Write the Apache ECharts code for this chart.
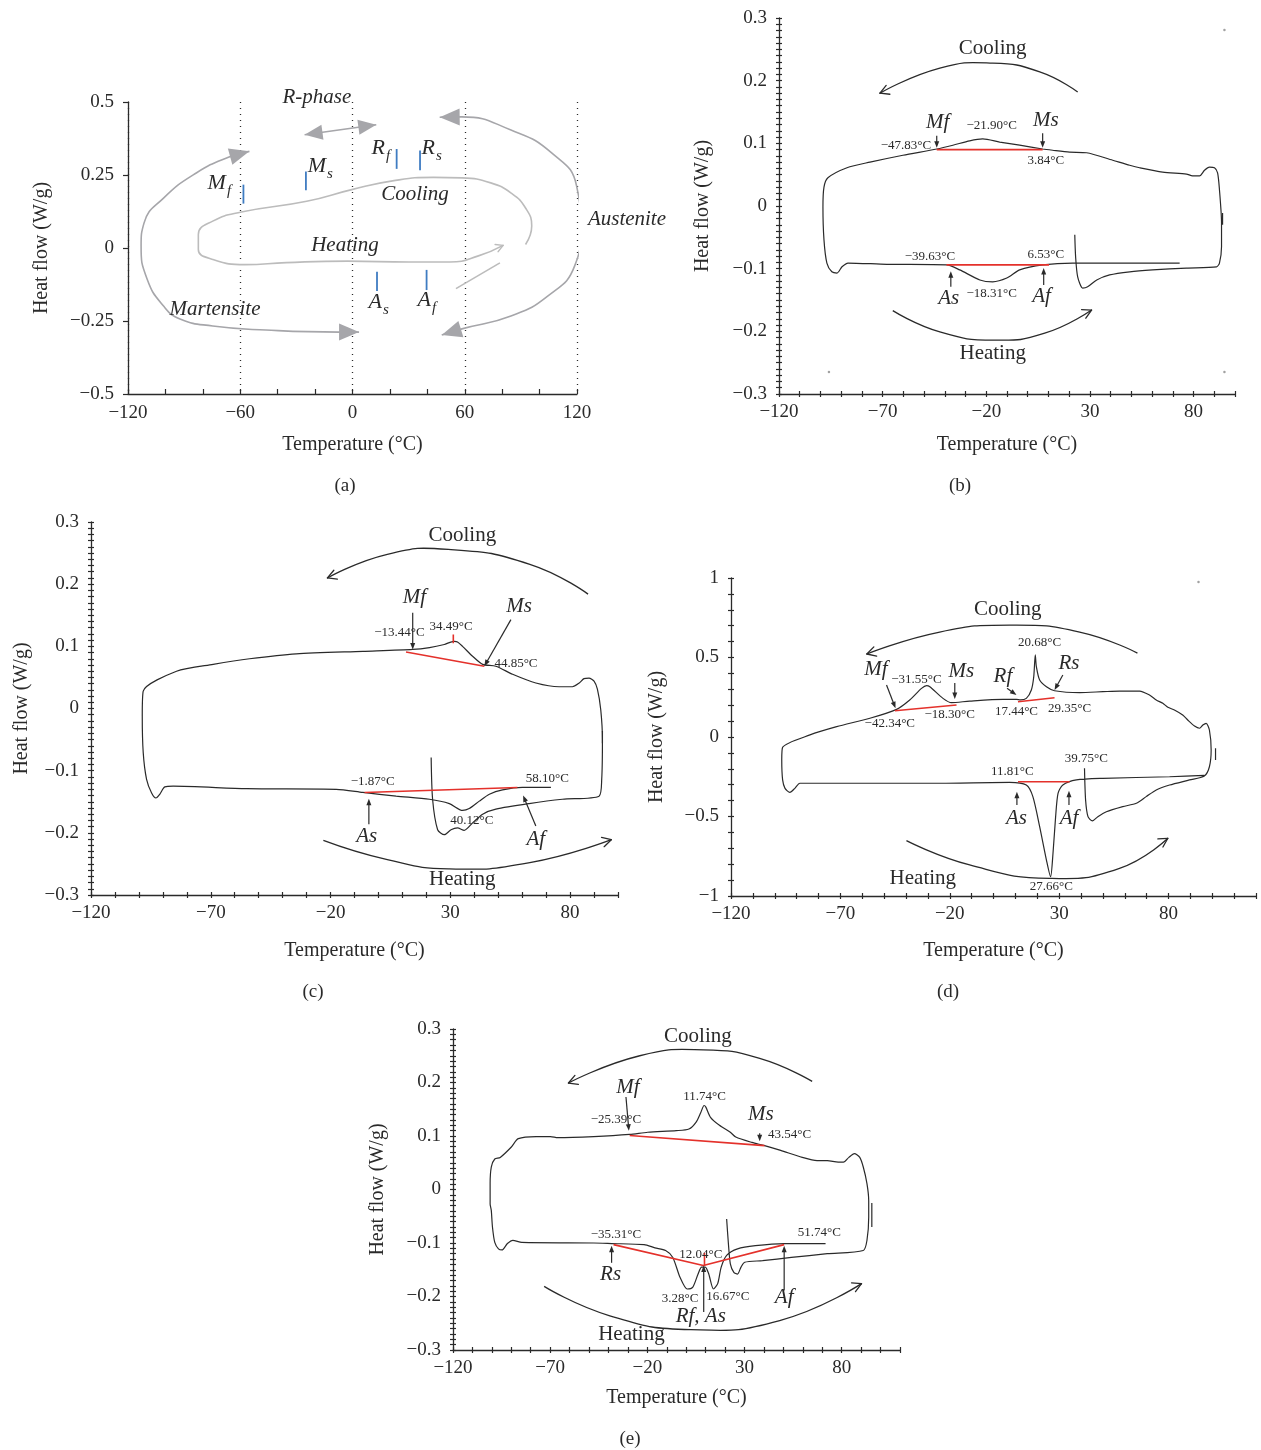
<!DOCTYPE html>
<html>
<head>
<meta charset="utf-8">
<title>DSC heat flow curves</title>
<script src="https://cdn.jsdelivr.net/npm/echarts@6.0.0/dist/echarts.min.js"></script>
<style>
html,body{margin:0;padding:0;background:#ffffff;}
#chart{width:1261px;height:1450px;}
</style>
</head>
<body>
<div id="chart"></div>
<script>
// ===================== DATA =====================
// ---- (a) schematic ----
const aLoopT  = [92.5, 95.8, 92.5, 84.8, 73.9, 58.6, 43.3, 21.4, -0.4, -24.5, -59.4, -74.7, -82.4, -82.4, -74.7, -57.3, -35.4, -2.6, 30.2, 52.0, 67.3, 80.5];
const aLoopHF = [0.012, 0.075, 0.137, 0.188, 0.223, 0.240, 0.242, 0.230, 0.200, 0.160, 0.123, 0.092, 0.046, -0.005, -0.039, -0.057, -0.050, -0.045, -0.048, -0.048, -0.027, 0.009];
const aRightArcT  = [46.6, 58.5, 84.7, 106.6, 119.8, 122.0, 118.7, 104.5, 84.7, 58.5, 47.7];
const aRightArcHF = [0.448, 0.449, 0.404, 0.325, 0.212, 0.063, -0.062, -0.164, -0.233, -0.277, -0.298];
const aLeftArcT  = [-55.1, -66.0, -83.5, -101.0, -111.4, -113.0, -109.8, -101.0, -92.2, -74.7, -46.3, -7.0, 3.5];
const aLeftArcHF = [0.331, 0.312, 0.257, 0.171, 0.086, 0.007, -0.106, -0.199, -0.243, -0.267, -0.281, -0.288, -0.288];
const aRphaseT  = [-25.6, 12.7];
const aRphaseHF = [0.388, 0.422];
const aShortT  = [55.3, 78.8];
const aShortHF = [-0.139, -0.051];
const aTickT   = [-58.3, -24.9, 23.6, 36.1, 13.1, 39.6];
const aTickTop = [0.217, 0.262, 0.339, 0.334, -0.081, -0.075];
const aTickBot = [0.152, 0.198, 0.271, 0.266, -0.147, -0.144];
const aLabels = [["R-phase", -19.0, 0.517], ["Cooling", 33.4, 0.182], ["Heating", -4.0, 0.007], ["Austenite", 146.7, 0.096], ["Martensite", -73.5, -0.209]];
const aSubLabels = [["M", "f", -69.8, 0.216], ["M", "s", -16.3, 0.274], ["R", "f", 15.2, 0.336], ["R", "s", 41.9, 0.336], ["A", "s", 13.6, -0.192], ["A", "f", 39.8, -0.185]];

// ---- (b) ----
const bT  = [22.7, 23.1, 24.1, 26.5, 28.9, 33.3, 39.5, 49.2, 60.2, 76.6, 91.1, 92.5, 93.5, 93.5, 92.5, 91.6, 90.1, 87.7, 85.3, 82.9, 79.5, 76.6, 65.1, 54.0, 49.2, 41.0, 28.4, 20.2, 12.0, 7.2, -3.9, -13.5, -21.7, -28.0, -36.1, -43.9, -60.2, -76.1, -87.2, -96.4, -98.3, -98.8, -98.3, -96.9, -94.5, -92.0, -89.6, -86.7, -68.0, -39.0, -32.8, -23.1, -16.9, -10.1, -3.9, 7.2, 21.7, 73.3];
const bHF = [-0.046, -0.081, -0.113, -0.131, -0.129, -0.118, -0.110, -0.105, -0.102, -0.099, -0.097, -0.091, -0.065, -0.027, 0.026, 0.053, 0.061, 0.062, 0.057, 0.048, 0.048, 0.051, 0.054, 0.061, 0.065, 0.073, 0.085, 0.086, 0.089, 0.091, 0.097, 0.102, 0.107, 0.104, 0.097, 0.091, 0.081, 0.070, 0.061, 0.045, 0.030, -0.002, -0.054, -0.091, -0.105, -0.107, -0.097, -0.091, -0.093, -0.094, -0.102, -0.118, -0.121, -0.115, -0.102, -0.094, -0.091, -0.091];
const bStubT = [94.0, 94.0], bStubHF = [-0.011, -0.030];
const bRed = [[[-43.9, 7.2], [0.090, 0.090]], [[-39.2, 10.3], [-0.094, -0.094]]];
const bTexts = [["Cooling", -16.9, 0.252, "plain"], ["Heating", -16.9, -0.236, "plain"], ["Mf", -43.4, 0.134, "ital"], ["Ms", 8.7, 0.137, "ital"], ["As", -38.1, -0.147, "ital"], ["Af", 6.7, -0.144, "ital"],
  ["\u221247.83\u00b0C", -58.8, 0.096, "small"], ["\u221221.90\u00b0C", -17.4, 0.129, "small"], ["3.84\u00b0C", 8.7, 0.072, "small"], ["\u221239.63\u00b0C", -47.2, -0.080, "small"], ["6.53\u00b0C", 8.7, -0.077, "small"], ["\u221218.31\u00b0C", -17.4, -0.140, "small"]];
const bArrows = [[-43.9, 0.112, -43.9, 0.093], [7.2, 0.116, 7.2, 0.093], [-37.1, -0.129, -37.1, -0.104], [7.7, -0.126, 7.7, -0.099]];
const bCurves = [[[24.1, 0.182], [5.8, 0.214], [-16.9, 0.228], [-42.4, 0.220], [-71.3, 0.180]], [[-65.1, -0.167], [-42.4, -0.201], [-15.9, -0.214], [8.2, -0.203], [30.8, -0.166]]];
const bDots = [[94.9, 0.281], [-95.9, -0.265], [94.9, -0.265]];

// ---- (c) ----
const cT  = [22.0, 22.6, 24.7, 27.5, 30.3, 33.0, 35.8, 39.3, 43.5, 49.0, 62.9, 76.8, 92.1, 93.2, 93.5, 92.8, 91.4, 90.0, 87.9, 85.8, 83.8, 81.0, 75.4, 65.7, 56.0, 49.0, 43.5, 39.3, 35.1, 33.0, 31.7, 29.6, 27.5, 21.3, 14.3, -6.5, -34.3, -53.8, -69.0, -84.3, -98.2, -98.6, -98.2, -96.8, -94.7, -92.9, -91.3, -89.2, -85.7, -55.1, -17.6, -6.5, 7.4, 21.3, 29.6, 35.1, 37.9, 42.1, 46.3, 51.8, 60.1, 72.0];
const cHF = [-0.079, -0.146, -0.195, -0.203, -0.195, -0.192, -0.196, -0.184, -0.170, -0.162, -0.153, -0.146, -0.141, -0.114, -0.050, -0.002, 0.031, 0.044, 0.049, 0.048, 0.041, 0.035, 0.035, 0.041, 0.055, 0.068, 0.071, 0.084, 0.100, 0.107, 0.108, 0.106, 0.103, 0.098, 0.095, 0.092, 0.088, 0.080, 0.071, 0.060, 0.028, -0.012, -0.071, -0.114, -0.136, -0.144, -0.138, -0.126, -0.125, -0.129, -0.130, -0.135, -0.141, -0.146, -0.153, -0.164, -0.161, -0.149, -0.138, -0.131, -0.127, -0.127];
const cStubT = [93.5, 93.5], cStubHF = [-0.036, -0.056];
const cRed = [[[11.5, 44.2], [0.091, 0.068]], [[31.25, 31.25], [0.119, 0.105]], [[-5.8, 58.0], [-0.135, -0.127]]];
const cTexts = [["Cooling", 35.0, 0.278, "plain"], ["Heating", 35.0, -0.275, "plain"], ["Mf", 15.0, 0.178, "ital"], ["Ms", 58.75, 0.164, "ital"], ["As", -4.9, -0.206, "ital"], ["Af", 65.7, -0.211, "ital"],
  ["\u221213.44\u00b0C", 8.75, 0.122, "small"], ["34.49\u00b0C", 30.3, 0.131, "small"], ["44.85\u00b0C", 57.4, 0.072, "small"], ["\u22121.87\u00b0C", -2.4, -0.118, "small"], ["58.10\u00b0C", 70.5, -0.113, "small"], ["40.12\u00b0C", 39.0, -0.180, "small"]];
const cArrows = [[14.3, 0.154, 14.3, 0.095], [55.3, 0.143, 44.2, 0.068], [-4.0, -0.186, -4.0, -0.145], [65.7, -0.189, 60.4, -0.140]];
const cCurves = [[[87.5, 0.184], [63.2, 0.232], [29.2, 0.256], [3.7, 0.248], [-21.3, 0.210]], [[-23.0, -0.212], [3.7, -0.243], [29.2, -0.258], [63.2, -0.248], [97.2, -0.211]]];
const cDots = [[93.75, 0.307], [-96.7, -0.326], [93.3, -0.326]];

// ---- (d) ----
const dT  = [41.6, 42.1, 43.2, 45.2, 47.7, 51.6, 59.1, 65.3, 69.8, 74.4, 80.5, 89.6, 96.4, 98.7, 99.5, 98.7, 97.2, 95.7, 94.2, 91.9, 88.8, 86.5, 82.7, 79.7, 77.4, 74.4, 71.3, 66.8, 57.6, 50.0, 39.4, 27.9, 24.2, 21.1, 19.6, 19.1, 18.4, 17.3, 15.0, 12.3, 10.5, 4.3, -10.9, -19.2, -23.1, -29.1, -30.6, -32.9, -38.3, -44.3, -56.5, -71.7, -83.9, -96.4, -96.8, -96.4, -95.3, -93.1, -90.8, -88.5, -71.7, -26.1, 7.4, 15.0, 18.0, 21.1, 24.2, 26.1, 27.2, 28.4, 29.5, 31.7, 37.9, 50.0, 80.5, 96.4];
const dHF = [-0.197, -0.396, -0.501, -0.528, -0.501, -0.470, -0.438, -0.417, -0.375, -0.333, -0.302, -0.270, -0.245, -0.187, -0.082, 0.044, 0.086, 0.075, 0.055, 0.069, 0.107, 0.138, 0.170, 0.187, 0.212, 0.233, 0.264, 0.289, 0.289, 0.285, 0.279, 0.291, 0.316, 0.358, 0.442, 0.516, 0.379, 0.296, 0.243, 0.233, 0.237, 0.237, 0.226, 0.216, 0.243, 0.316, 0.323, 0.306, 0.233, 0.174, 0.118, 0.065, 0.013, -0.065, -0.145, -0.270, -0.323, -0.348, -0.323, -0.291, -0.291, -0.291, -0.285, -0.302, -0.375, -0.564, -0.774, -0.879, -0.731, -0.501, -0.354, -0.302, -0.270, -0.260, -0.250, -0.241];
const dStubT = [101.5, 101.5], dStubHF = [-0.071, -0.145];
const dRed = [[[-45.1, -16.9], [0.165, 0.201]], [[11.2, 27.9], [0.222, 0.247]], [[11.2, 34.8], [-0.281, -0.281]]];
const dTexts = [["Cooling", 6.5, 0.799, "plain"], ["Heating", -32.3, -0.887, "plain"], ["Mf", -53.8, 0.426, "ital"], ["Ms", -14.7, 0.411, "ital"], ["Rf", 4.3, 0.379, "ital"], ["Rs", 34.5, 0.464, "ital"], ["As", 10.5, -0.511, "ital"], ["Af", 34.5, -0.511, "ital"],
  ["\u221231.55\u00b0C", -35.2, 0.358, "small"], ["20.68\u00b0C", 21.1, 0.593, "small"], ["\u221242.34\u00b0C", -47.4, 0.082, "small"], ["\u221218.30\u00b0C", -20.0, 0.138, "small"], ["17.44\u00b0C", 10.5, 0.159, "small"], ["29.35\u00b0C", 34.8, 0.180, "small"], ["11.81\u00b0C", 8.6, -0.218, "small"], ["39.75\u00b0C", 42.4, -0.134, "small"], ["27.66\u00b0C", 26.4, -0.942, "small"]];
const dArrows = [[-48.9, 0.327, -44.8, 0.181], [-17.7, 0.340, -17.7, 0.239], [6.2, 0.306, 10.5, 0.264], [31.7, 0.390, 27.9, 0.296], [10.7, -0.428, 10.7, -0.344], [34.5, -0.428, 34.5, -0.338]];
const dCurves = [[[65.8, 0.528], [39.4, 0.660], [7.4, 0.704], [-24.6, 0.660], [-57.9, 0.522]], [[-39.8, -0.652], [-10.9, -0.805], [25.7, -0.889], [57.6, -0.826], [79.7, -0.637]]];
const dDots = [[93.7, 0.975]];

// ---- (e) ----
const eT  = [20.8, 21.7, 22.7, 24.5, 26.4, 28.2, 30.1, 39.3, 54.1, 72.6, 91.1, 93.0, 93.9, 93.9, 93.0, 91.1, 89.3, 86.5, 83.7, 80.9, 78.2, 72.6, 67.3, 59.7, 48.6, 40.3, 33.8, 25.5, 22.7, 17.1, 12.5, 10.1, 9.2, 7.5, 5.1, 1.4, -5.1, -19.8, -29.1, -47.6, -66.1, -69.8, -77.2, -86.4, -90.1, -95.7, -98.5, -100.3, -100.9, -100.9, -100.3, -99.7, -98.5, -96.6, -94.8, -92.0, -89.2, -84.6, -47.6, -38.4, -21.7, -16.1, -10.6, -6.9, -3.2, 0.5, 3.3, 6.1, 7.9, 9.8, 11.6, 14.0, 16.2, 18.0, 20.8, 26.4, 35.6, 50.4, 71.7];
const eHF = [-0.055, -0.101, -0.139, -0.155, -0.158, -0.145, -0.136, -0.133, -0.127, -0.120, -0.114, -0.095, -0.052, -0.021, 0.011, 0.042, 0.060, 0.067, 0.060, 0.051, 0.051, 0.054, 0.054, 0.060, 0.073, 0.082, 0.088, 0.098, 0.107, 0.120, 0.135, 0.154, 0.157, 0.144, 0.126, 0.113, 0.110, 0.107, 0.103, 0.099, 0.097, 0.099, 0.099, 0.095, 0.079, 0.060, 0.057, 0.042, 0.011, -0.027, -0.039, -0.070, -0.099, -0.111, -0.113, -0.101, -0.095, -0.099, -0.100, -0.101, -0.103, -0.109, -0.114, -0.127, -0.164, -0.186, -0.183, -0.158, -0.145, -0.145, -0.158, -0.186, -0.176, -0.145, -0.123, -0.111, -0.105, -0.101, -0.101];
const eStubT = [95.5, 95.5], eStubHF = [-0.025, -0.070];
const eRed = [[[-29.1, 40.3], [0.101, 0.082]], [[-37.4, 8.8, 50.4], [-0.103, -0.142, -0.103]], [[9.4, 9.4], [-0.118, -0.142]]];
const eTexts = [["Cooling", 6.0, 0.286, "plain"], ["Heating", -28.2, -0.271, "plain"], ["Mf", -30.0, 0.190, "ital"], ["Ms", 38.4, 0.140, "ital"], ["Rs", -38.9, -0.159, "ital"], ["Rf, As", 7.5, -0.237, "ital"], ["Af", 50.4, -0.202, "ital"],
  ["\u221225.39\u00b0C", -36.2, 0.131, "small"], ["11.74\u00b0C", 9.4, 0.174, "small"], ["43.54\u00b0C", 53.2, 0.103, "small"], ["\u221235.31\u00b0C", -36.2, -0.085, "small"], ["51.74\u00b0C", 68.5, -0.080, "small"], ["12.04\u00b0C", 7.5, -0.121, "small"], ["3.28\u00b0C", -3.2, -0.204, "small"], ["16.67\u00b0C", 21.4, -0.200, "small"]];
const eArrows = [[-31.0, 0.173, -29.5, 0.110], [37.8, 0.105, 37.8, 0.090], [-38.4, -0.137, -38.4, -0.105], [9.0, -0.229, 9.0, -0.142], [50.4, -0.189, 50.4, -0.105]];
const eCurves = [[[64.8, 0.202], [37.8, 0.245], [8.8, 0.261], [-23.9, 0.250], [-60.6, 0.199]], [[-73.1, -0.181], [-39.3, -0.236], [2.4, -0.262], [48.1, -0.245], [90.2, -0.176]]];

// ===================== LAYOUT / STYLE =====================
const FONT = '"Liberation Serif","DejaVu Serif",serif';
const INK = '#2a2a2a';
const RED = '#e4312b';
const GRAYLOOP = '#bcbcbc';
const GRAYARROW = '#a6a6aa';
const BLUE = '#3f7cc2';

const LAYOUT = [
  {grid:{left:128, top:102, width:449, height:292}, xr:[-120,120], yr:[-0.5,0.5], schematic:true, xGap:41, yGap:76},
  {grid:{left:779, top:18, width:456, height:376}, xr:[-120,100], yr:[-0.3,0.3], yStep:0.01, yMajor:0.1, xGap:41, yGap:66},
  {grid:{left:91, top:522, width:527, height:373}, xr:[-120,100], yr:[-0.3,0.3], yStep:0.01, yMajor:0.1, xGap:46, yGap:59},
  {grid:{left:731, top:578, width:525, height:318}, xr:[-120,120], yr:[-1,1], yStep:0.1, yMajor:0.5, xGap:45, yGap:64},
  {grid:{left:453, top:1029, width:447, height:321}, xr:[-120,110], yr:[-0.3,0.3], yStep:0.01, yMajor:0.1, xGap:38, yGap:65}
];
const PANEL_TITLES = [["(a)",345,486],["(b)",960,486],["(c)",313,992],["(d)",948,992],["(e)",630,1439]];

function fmt(v){ return String(+(+v).toFixed(3)).replace('-', '\u2212'); }
function isMult(v, base, step){ const k=(v-base)/step; return Math.abs(k-Math.round(k))<1e-6; }
const labelStyle = {fontFamily:FONT, fontSize:19, color:INK};
const nameStyle = {fontFamily:FONT, fontSize:20, color:INK};
const tickLine = {color:INK, width:1.2};

const grids=[], xAxes=[], yAxes=[], AX=[];
LAYOUT.forEach((L,i)=>{
  grids.push(Object.assign({outerBoundsMode:'none', containLabel:false}, L.grid));
  const base = {gridIndex:i, type:'value', min:L.xr[0], max:L.xr[1]};
  const ybase = {gridIndex:i, type:'value', min:L.yr[0], max:L.yr[1]};
  AX.push({x:xAxes.length, y:yAxes.length});
  if (L.schematic){
    xAxes.push(Object.assign({}, base, {position:'bottom', interval:60,
      axisLine:{onZero:false, lineStyle:{color:INK, width:1.3}},
      axisTick:{show:true, inside:true, length:5, lineStyle:tickLine},
      minorTick:{show:true, splitNumber:3, length:5, lineStyle:tickLine},
      axisLabel:Object.assign({margin:10, formatter:fmt}, labelStyle),
      splitLine:{show:true, lineStyle:{color:INK, width:1.3, type:[1,5]}},
      name:'Temperature (\u00b0C)', nameLocation:'middle', nameGap:L.xGap, nameTextStyle:nameStyle}));
    yAxes.push(Object.assign({}, ybase, {position:'left', interval:0.25,
      axisLine:{onZero:false, lineStyle:{color:INK, width:1.3}},
      axisTick:{show:true, inside:false, length:5, lineStyle:tickLine},
      axisLabel:Object.assign({margin:14, formatter:fmt}, labelStyle),
      splitLine:{show:false},
      name:'Heat flow (W/g)', nameLocation:'middle', nameGap:L.yGap, nameTextStyle:nameStyle}));
  } else {
    xAxes.push(Object.assign({}, base, {position:'bottom', interval:10,
      axisLine:{onZero:false, lineStyle:{color:INK, width:1.3}},
      axisTick:{show:true, inside:false, length:3, lineStyle:tickLine},
      axisLabel:Object.assign({margin:9, formatter:v=>isMult(v,-120,50)?fmt(v):''}, labelStyle),
      splitLine:{show:false},
      name:'Temperature (\u00b0C)', nameLocation:'middle', nameGap:L.xGap, nameTextStyle:nameStyle}));
    xAxes.push(Object.assign({}, base, {position:'bottom', interval:10,
      axisLine:{show:false, onZero:false},
      axisTick:{show:true, inside:true, length:3, lineStyle:tickLine},
      axisLabel:{show:false}, splitLine:{show:false}}));
    yAxes.push(Object.assign({}, ybase, {position:'left', interval:L.yStep,
      axisLine:{onZero:false, lineStyle:{color:INK, width:1.3}},
      axisTick:{show:true, inside:false, length:3, lineStyle:tickLine},
      axisLabel:Object.assign({margin:12, formatter:v=>isMult(v,0,L.yMajor)?fmt(v):''}, labelStyle),
      splitLine:{show:false},
      name:'Heat flow (W/g)', nameLocation:'middle', nameGap:L.yGap, nameTextStyle:nameStyle}));
    yAxes.push(Object.assign({}, ybase, {position:'left', interval:L.yStep,
      axisLine:{show:false, onZero:false},
      axisTick:{show:true, inside:true, length:3, lineStyle:tickLine},
      axisLabel:{show:false}, splitLine:{show:false}}));
  }
});

const series = [];
function zip(xs, ys){ return xs.map((v,i)=>[v, ys[i]]); }
function addLine(pi, xs, ys, color, width, smooth, z){
  series.push({type:'line', xAxisIndex:AX[pi].x, yAxisIndex:AX[pi].y, data:zip(xs,ys),
    symbol:'none', showSymbol:false, smooth:smooth||false, silent:true, z:z||2,
    lineStyle:{color:color, width:width}, emphasis:{disabled:true}});
}
function addDots(pi, pts){
  series.push({type:'scatter', xAxisIndex:AX[pi].x, yAxisIndex:AX[pi].y, data:pts, symbolSize:2.5,
    itemStyle:{color:'#8a8a8a'}, silent:true, z:2});
}

// (a)
addLine(0, aLoopT, aLoopHF, GRAYLOOP, 1.6, 0.5);
addLine(0, aShortT, aShortHF, GRAYLOOP, 1.6, false);
addLine(0, aLeftArcT, aLeftArcHF, GRAYARROW, 1.6, 0.5);
addLine(0, aRightArcT, aRightArcHF, GRAYARROW, 1.6, 0.5);
addLine(0, aRphaseT, aRphaseHF, GRAYARROW, 1.6, false);
aTickT.forEach((t,i)=>addLine(0, [t,t], [aTickTop[i], aTickBot[i]], BLUE, 1.8, false, 3));

const CURVES = [null,
  {T:bT, HF:bHF, stub:[bStubT,bStubHF], red:bRed, texts:bTexts, arrows:bArrows, curves:bCurves, dots:bDots},
  {T:cT, HF:cHF, stub:[cStubT,cStubHF], red:cRed, texts:cTexts, arrows:cArrows, curves:cCurves, dots:cDots},
  {T:dT, HF:dHF, stub:[dStubT,dStubHF], red:dRed, texts:dTexts, arrows:dArrows, curves:dCurves, dots:dDots},
  {T:eT, HF:eHF, stub:[eStubT,eStubHF], red:eRed, texts:eTexts, arrows:eArrows, curves:eCurves, dots:[]}
];
for (let p=1; p<5; p++){
  const C = CURVES[p];
  addLine(p, C.T, C.HF, INK, 1.2, 0.25);
  addLine(p, C.stub[0], C.stub[1], INK, 1.2, false);
  C.red.forEach(r=>addLine(p, r[0], r[1], RED, 1.6, false, 4));
  if (C.dots.length) addDots(p, C.dots);
}

const chart = echarts.init(document.getElementById('chart'), null, {renderer:'canvas'});
chart.setOption({animation:false, backgroundColor:'#ffffff', grid:grids, xAxis:xAxes, yAxis:yAxes, series:series});

// ===================== ANNOTATIONS (placed through the axes) =====================
const G = [];
function P(pi, t, h){ return chart.convertToPixel({xAxisIndex:AX[pi].x, yAxisIndex:AX[pi].y}, [t, h]); }
function addText(x, y, str, size, style, align){
  const a = align || 'center';
  G.push({type:'text', x:x, y:y, z:60, silent:true,
    style:{text:str, fill:INK, fontSize:size, fontFamily:FONT, fontStyle:style,
      align:a, verticalAlign:'middle', textAlign:a, textVerticalAlign:'middle'}});
}
const KIND = {plain:[21,'normal'], ital:[21,'italic'], small:[13,'normal']};
function filledHead(p1, p2, L, W, color){
  const dx=p2[0]-p1[0], dy=p2[1]-p1[1], d=Math.hypot(dx,dy)||1, ux=dx/d, uy=dy/d;
  const bx=p2[0]-ux*L, by=p2[1]-uy*L;
  G.push({type:'polygon', z:61, silent:true,
    shape:{points:[[p2[0],p2[1]],[bx-uy*W/2, by+ux*W/2],[bx+uy*W/2, by-ux*W/2]]},
    style:{fill:color, stroke:null}});
}
function openHead(p1, p2, L, ang, color, lw){
  const a = Math.atan2(p2[1]-p1[1], p2[0]-p1[0]);
  [ang, -ang].forEach(s=>{
    G.push({type:'line', z:61, silent:true,
      shape:{x1:p2[0], y1:p2[1], x2:p2[0]-L*Math.cos(a+s), y2:p2[1]-L*Math.sin(a+s)},
      style:{stroke:color, lineWidth:lw, lineCap:'round'}});
  });
}
function straightArrow(pi, t1, h1, t2, h2){
  const a=P(pi,t1,h1), b=P(pi,t2,h2);
  const dx=b[0]-a[0], dy=b[1]-a[1], d=Math.hypot(dx,dy)||1;
  G.push({type:'line', z:60, silent:true,
    shape:{x1:a[0], y1:a[1], x2:b[0]-dx/d*4, y2:b[1]-dy/d*4},
    style:{stroke:INK, lineWidth:1.2}});
  filledHead(a, b, 6.5, 5, INK);
}
function curvedArrow(pi, pts){
  const px = pts.map(p=>P(pi,p[0],p[1]));
  G.push({type:'polyline', z:60, silent:true, shape:{points:px, smooth:0.5},
    style:{stroke:INK, lineWidth:1.3, fill:null}});
  openHead(px[px.length-2], px[px.length-1], 10, 0.5, INK, 1.3);
}

// panel titles
PANEL_TITLES.forEach(t=>addText(t[1], t[2], t[0], 19, 'normal'));

// (a) labels and arrowheads
aLabels.forEach(l=>{ const p=P(0,l[1],l[2]); addText(p[0], p[1], l[0], 21, 'italic'); });
aSubLabels.forEach(l=>{ const p=P(0,l[2],l[3]); addText(p[0]+4, p[1]-2, l[0], 22, 'italic', 'right'); addText(p[0]+5, p[1]+6, l[1], 15, 'italic', 'left'); });
(function(){
  const n = aLeftArcT.length, m = aRightArcT.length;
  filledHead(P(0,aLeftArcT[1],aLeftArcHF[1]), P(0,aLeftArcT[0],aLeftArcHF[0]), 20, 17, GRAYARROW);
  filledHead(P(0,aLeftArcT[n-2],aLeftArcHF[n-2]), P(0,aLeftArcT[n-1],aLeftArcHF[n-1]), 20, 17, GRAYARROW);
  filledHead(P(0,aRightArcT[1],aRightArcHF[1]), P(0,aRightArcT[0],aRightArcHF[0]), 20, 17, GRAYARROW);
  filledHead(P(0,aRightArcT[m-2],aRightArcHF[m-2]), P(0,aRightArcT[m-1],aRightArcHF[m-1]), 20, 17, GRAYARROW);
  filledHead(P(0,aRphaseT[1],aRphaseHF[1]), P(0,aRphaseT[0],aRphaseHF[0]), 18, 15, GRAYARROW);
  filledHead(P(0,aRphaseT[0],aRphaseHF[0]), P(0,aRphaseT[1],aRphaseHF[1]), 18, 15, GRAYARROW);
  const k = aLoopT.length;
  openHead(P(0,aLoopT[k-2],aLoopHF[k-2]), P(0,aLoopT[k-1],aLoopHF[k-1]), 8, 0.5, GRAYLOOP, 1.5);
})();

// (b)-(e)
for (let p=1; p<5; p++){
  const C = CURVES[p];
  C.texts.forEach(t=>{ const q=P(p,t[1],t[2]); const k=KIND[t[3]]; addText(q[0], q[1], t[0], k[0], k[1]); });
  C.arrows.forEach(a=>straightArrow(p, a[0], a[1], a[2], a[3]));
  C.curves.forEach(c=>curvedArrow(p, c));
}

chart.setOption({graphic:{elements:G}});
</script>
</body>
</html>
